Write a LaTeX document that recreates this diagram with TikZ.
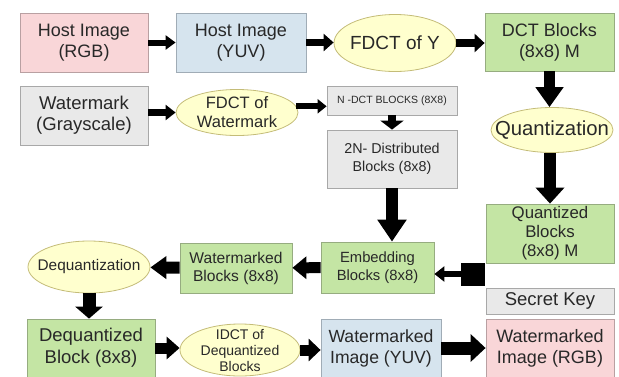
\documentclass[tikz,border=0pt]{standalone}
\usepackage{fontspec}
\setmainfont{Liberation Sans}
\usetikzlibrary{arrows.meta,shapes.geometric}
\definecolor{pinkF}{RGB}{249,214,216}
\definecolor{pinkD}{RGB}{185,160,162}
\definecolor{blueF}{RGB}{214,228,238}
\definecolor{blueD}{RGB}{160,172,182}
\definecolor{greenF}{RGB}{196,229,164}
\definecolor{greenD}{RGB}{150,172,128}
\definecolor{yelF}{RGB}{255,255,206}
\definecolor{yelD}{RGB}{196,188,120}
\definecolor{grayF}{RGB}{233,233,233}
\definecolor{grayD}{RGB}{168,168,168}
\definecolor{txt}{RGB}{40,40,40}
\tikzset{
  box/.style={rectangle, inner sep=0pt, align=center, text=txt, line width=0.8pt},
  oval/.style={ellipse, inner sep=0pt, draw=yelD, fill=yelF, line width=0.8pt},
  ovaltext/.style={inner sep=0pt, align=center, text=txt},
  pinkbox/.style={box, draw=pinkD, fill=pinkF},
  bluebox/.style={box, draw=blueD, fill=blueF},
  greenbox/.style={box, draw=greenD, fill=greenF},
  graybox/.style={box, draw=grayD, fill=grayF},
  arr/.style n args={3}{draw=black, line width=#1, -{Triangle[length=#3, width=#2]}},
}
\begin{document}
\begin{tikzpicture}[x=1pt,y=-1pt]
\useasboundingbox (0,0) rectangle (619,376);
% row 1
\node[pinkbox, minimum width=128pt, minimum height=59pt, font=\fontsize{18}{21}\selectfont] (hrgb) at (84,42.5) {Host Image\\(RGB)};
\node[bluebox, minimum width=130pt, minimum height=59pt, font=\fontsize{18}{21}\selectfont] (hyuv) at (241,42.5) {Host Image\\(YUV)};
\node[oval, minimum width=122pt, minimum height=57pt] (fdcty) at (395,43) {};
\node[ovaltext, font=\fontsize{19}{22}\selectfont] (fdctyT) at (fdcty.center) {FDCT of Y};
\node[greenbox, minimum width=129pt, minimum height=58pt, font=\fontsize{18}{21}\selectfont] (dct) at (549.5,42) {DCT Blocks\\(8x8) M};
% row 2
\node[graybox, minimum width=128pt, minimum height=59pt, font=\fontsize{18.5}{21}\selectfont] (wm) at (84,115.5) {Watermark\\(Grayscale)};
\node[oval, minimum width=122pt, minimum height=46pt] (fdctw) at (237,112.5) {};
\node[ovaltext, font=\fontsize{16.5}{19}\selectfont] (fdctwT) at (fdctw.center) {FDCT of\\Watermark};
\node[graybox, minimum width=130pt, minimum height=29pt, font=\fontsize{10.5}{12}\selectfont] (ndct) at (392,100.5) {N -DCT BLOCKS (8X8)};
\node[graybox, minimum width=130pt, minimum height=58pt, font=\fontsize{14.3}{18}\selectfont] (dist) at (392,159) {2N- Distributed\\Blocks (8x8)};
\node[oval, minimum width=122pt, minimum height=45pt] (quant) at (552,130) {};
\node[ovaltext, font=\fontsize{20.3}{22}\selectfont] (quantT) at (quant.center) {Quantization};
\node[greenbox, minimum width=128pt, minimum height=59pt, font=\fontsize{16.8}{19}\selectfont] (qblk) at (550,233.5) {Quantized\\Blocks\\(8x8) M};
\node[graybox, minimum width=128pt, minimum height=26pt, font=\fontsize{18.5}{21}\selectfont] (skey) at (550,301) {Secret Key};
\node[rectangle, fill=black, draw=black, minimum width=23pt, minimum height=22pt, inner sep=0pt] (junc) at (472.5,274) {};
% row 3
\node[greenbox, minimum width=113pt, minimum height=51pt, font=\fontsize{14.8}{18}\selectfont] (emb) at (377.5,267.5) {Embedding\\Blocks (8x8)};
\node[greenbox, minimum width=112pt, minimum height=50pt, font=\fontsize{15.6}{18}\selectfont] (wblk) at (236,268) {Watermarked\\Blocks (8x8)};
\node[oval, minimum width=122pt, minimum height=52pt] (deq) at (89,267) {};
\node[ovaltext, font=\fontsize{15.4}{18}\selectfont] (deqT) at (deq.center) {Dequantization};
% row 4
\node[greenbox, minimum width=128pt, minimum height=58pt, font=\fontsize{18.5}{22}\selectfont] (dqb) at (91,348) {Dequantized\\Block (8x8)};
\node[oval, minimum width=120pt, minimum height=52pt] (idct) at (240,350) {};
\node[ovaltext, font=\fontsize{14}{16}\selectfont] (idctT) at (idct.center) {IDCT of\\Dequantized\\Blocks};
\node[bluebox, minimum width=120pt, minimum height=58pt, font=\fontsize{17.6}{21}\selectfont] (wyuv) at (381,348) {Watermarked\\Image (YUV)};
\node[pinkbox, minimum width=128pt, minimum height=58pt, font=\fontsize{18}{21}\selectfont] (wrgb) at (550,348) {Watermarked\\Image (RGB)};
% arrows
\draw[arr={6pt}{14pt}{10pt}] (hrgb) -- (hyuv);
\draw[arr={7pt}{17pt}{10pt}] (hyuv) -- (hyuv -| fdcty.west);
\draw[arr={8pt}{18pt}{10pt}] (fdcty) -- (fdcty -| dct.west);
\draw[arr={6.5pt}{15pt}{10pt}] (wm.east |- fdctw.center) -- (fdctw.west);
\draw[arr={6pt}{14pt}{9pt}] (fdctw.6) -- (fdctw.6 -| ndct.west);
\draw[arr={8pt}{23pt}{9pt}] (ndct) -- (dist);
\draw[arr={11pt}{27pt}{20pt}] (dct.south) -- (dct.south |- quant.north);
\draw[arr={12pt}{28pt}{16pt}] (quant.south -| qblk.north) -- (qblk.north);
\draw[arr={12pt}{28pt}{22pt}] (dist.south) -- (dist.south |- emb.north);
\draw[arr={6pt}{15pt}{10pt}] (junc) -- (junc -| emb.east);
\draw[arr={11pt}{22pt}{14pt}] (emb) -- (wblk);
\draw[arr={12pt}{22pt}{16pt}] (wblk) -- (deq);
\draw[arr={13pt}{27pt}{12pt}] (deq.south) -- (deq.south |- dqb.north);
\draw[arr={11pt}{22pt}{13pt}] (dqb) -- (dqb -| idct.west);
\draw[arr={11pt}{22pt}{12pt}] (idct) -- (idct -| wyuv.west);
\draw[arr={13pt}{27pt}{15pt}] (wyuv) -- (wrgb);
\end{tikzpicture}
\end{document}
